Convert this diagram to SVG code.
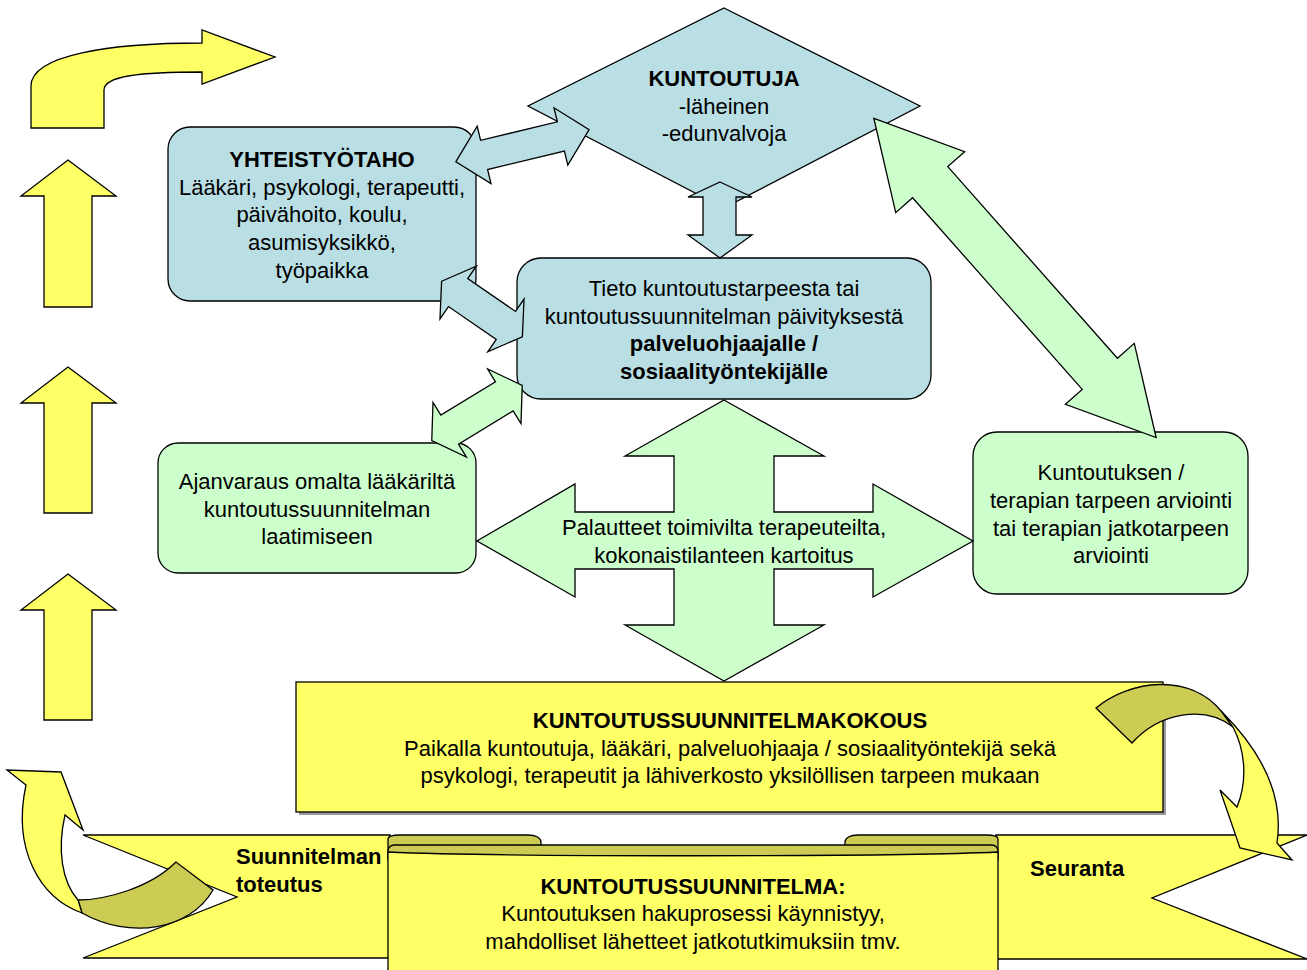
<svg xmlns="http://www.w3.org/2000/svg" width="1307" height="970" viewBox="0 0 1307 970">
<style>
.s{stroke:#000;stroke-width:1.3;stroke-linejoin:miter}
.y{fill:#FFFF66}
.o{fill:#CCCC55}
.b{fill:#B9DFE4}
.g{fill:#CCFFCC}
text{font-family:"Liberation Sans",Arial,Helvetica,sans-serif;font-size:22px;fill:#000}
.c{text-anchor:middle}
.bd{font-weight:bold}
</style>
<rect width="1307" height="970" fill="#fff"/>

<g id="n-yhteistyotaho">
<rect class="s b" x="168" y="127" width="308" height="174" rx="22"/>
<text class="c bd" x="322" y="167">YHTEISTYÖTAHO</text>
<text class="c" x="322" y="195">Lääkäri, psykologi, terapeutti,</text>
<text class="c" x="322" y="222">päivähoito, koulu,</text>
<text class="c" x="322" y="250">asumisyksikkö,</text>
<text class="c" x="322" y="278">työpaikka</text>
</g>

<g id="n-kuntoutuja">
<polygon class="s b" points="724,8 920,106 724,208 528,106"/>
<text class="c bd" x="724" y="86">KUNTOUTUJA</text>
<text class="c" x="724" y="114">-läheinen</text>
<text class="c" x="724" y="141">-edunvalvoja</text>
</g>

<g id="n-tieto">
<rect class="s b" x="517" y="258" width="414" height="141" rx="24"/>
<text class="c" x="724" y="296">Tieto kuntoutustarpeesta tai</text>
<text class="c" x="724" y="324">kuntoutussuunnitelman päivityksestä</text>
<text class="c bd" x="724" y="351">palveluohjaajalle /</text>
<text class="c bd" x="724" y="379">sosiaalityöntekijälle</text>
</g>

<g id="n-ajanvaraus">
<rect class="s g" x="158" y="443" width="318" height="130" rx="20"/>
<text class="c" x="317" y="489">Ajanvaraus omalta lääkäriltä</text>
<text class="c" x="317" y="517">kuntoutussuunnitelman</text>
<text class="c" x="317" y="544">laatimiseen</text>
</g>

<g id="n-arviointi">
<rect class="s g" x="973" y="432" width="275" height="162" rx="24"/>
<text class="c" x="1111" y="480">Kuntoutuksen /</text>
<text class="c" x="1111" y="508">terapian tarpeen arviointi</text>
<text class="c" x="1111" y="536">tai terapian jatkotarpeen</text>
<text class="c" x="1111" y="563">arviointi</text>
</g>

<g id="n-palautteet">
<polygon class="s g" points="724,400 824,456 774,456 774,512 873,512 873,484 973,541 873,597 873,569 774,569 774,625 824,625 724,681 625,625 674,625 674,569 575,569 575,597 477,541 575,484 575,512 674,512 674,456 625,456"/>
<text class="c" x="724" y="535">Palautteet toimivilta terapeuteilta,</text>
<text class="c" x="724" y="563">kokonaistilanteen kartoitus</text>
</g>

<g id="n-kokous">
<rect x="299" y="685" width="867" height="130" fill="#9a9a9a"/>
<rect class="s y" x="296" y="682" width="867" height="130"/>
<text class="c bd" x="730" y="728">KUNTOUTUSSUUNNITELMAKOKOUS</text>
<text class="c" x="730" y="756">Paikalla kuntoutuja, lääkäri, palveluohjaaja / sosiaalityöntekijä sekä</text>
<text class="c" x="730" y="783">psykologi, terapeutit ja lähiverkosto yksilöllisen tarpeen mukaan</text>
</g>

<g id="n-suunnitelma">
<polygon class="s y" points="83,835 390,835 390,958 83,958 237,897"/>
<polygon class="s y" points="996,835 1307,835 1152,898 1307,959 996,959"/>
<path class="s o" d="M388,860 L388,839 C388,836 394,835 400,835 L528,835 C536,835 541,838 541,842 L541,860 Z"/>
<path class="s o" d="M998,860 L998,839 C998,836 992,835 986,835 L858,835 C850,835 845,838 845,842 L845,860 Z"/>
<rect class="s o" x="388" y="845" width="610" height="12" rx="6" ry="6"/>
<path class="s y" d="M388,852 C500,857 886,857 998,852 L998,972 L388,972 Z"/>
<text class="bd" x="236" y="864">Suunnitelman</text>
<text class="bd" x="236" y="892">toteutus</text>
<text class="bd" x="1030" y="876">Seuranta</text>
<text class="c bd" x="693" y="894">KUNTOUTUSSUUNNITELMA:</text>
<text class="c" x="693" y="921">Kuntoutuksen hakuprosessi käynnistyy,</text>
<text class="c" x="693" y="949">mahdolliset lähetteet jatkotutkimuksiin tmv.</text>
</g>

<g id="connectors">
<polygon class="s b" transform="translate(522.5,145.7) rotate(-13.5)" points="-68.5,0 -39.5,-29.5 -39.5,-15 39.5,-15 39.5,-29.5 68.5,0 39.5,29.5 39.5,15 -39.5,15 -39.5,29.5"/>
<polygon class="s b" points="720,182 752,197 736,197 736,235 752,235 720,258 688,235 703,235 703,197 688,197"/>
<polygon class="s b" transform="translate(482,309) rotate(34.5)" points="-49,0 -29,-32 -29,-17 29,-17 29,-32 49,0 29,32 29,17 -29,17 -29,32"/>
<polygon class="s g" transform="translate(477,413) rotate(-31.4)" points="-53,0 -32,-32 -32,-17 32,-17 32,-32 53,0 32,32 32,17 -32,17 -32,32"/>
<polygon class="s g" transform="translate(1015,278) rotate(48.5)" points="-213,0 -128,-46 -128,-23.5 128,-23.5 128,-46 213,0 128,46 128,23.5 -128,23.5 -128,46"/>
<polygon class="s y" points="68,160 116,196 92,196 92,307 44,307 44,196 21,196"/>
<polygon class="s y" points="68,367 116,403 92,403 92,513 44,513 44,403 21,403"/>
<polygon class="s y" points="68,574 116,610 92,610 92,720 44,720 44,610 21,610"/>
<path class="s y" d="M31,128 L31,86 C31,55 110,43 202,43 L202,30 L275,57 L202,84 L202,72 C140,72 104,76 104,90 L104,128 Z"/>
<path class="s o" d="M1096,708 C1130,680 1190,672 1222,712 L1233,727 C1205,705 1160,712 1132,743 Z"/>
<path class="s y" d="M1222,712 C1255,745 1285,790 1277,843 L1292,860 L1240,848 L1220,790 L1237,807 C1248,780 1245,750 1233,727 Z"/>
<path class="s o" d="M78,900 C105,900 150,888 176,862 L213,890 C190,930 130,940 82,913 Z"/>
<path class="s y" d="M26,785 L7,770 L61,772 L83,830 L65,815 C57,850 62,882 78,900 L82,913 C40,898 12,850 26,785 Z"/>
</g>
</svg>
